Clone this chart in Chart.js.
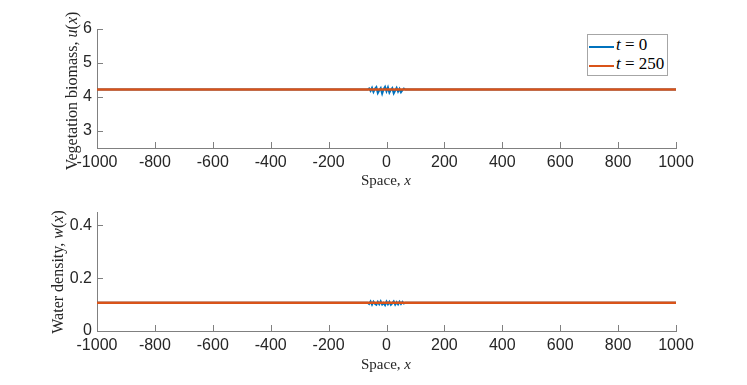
<!DOCTYPE html>
<html>
<head>
<meta charset="utf-8">
<script src="https://cdn.jsdelivr.net/npm/chart.js@4.4.0/dist/chart.umd.min.js"></script>
<style>
  body { margin: 0; background: #fff; }
  #wrap { position: relative; width: 747px; height: 385px; overflow: hidden; }
  canvas { position: absolute; left: 0; }
  .lbl { position: absolute; font-family: "Liberation Serif", "DejaVu Serif", serif; font-size: 15px; color: #262626; white-space: nowrap; }
  .rot { transform: translate(-50%, -50%) rotate(-90deg); font-size: 16px; }
  .hx { transform: translate(-50%, 0); }
  #legend { position: absolute; left: 587px; top: 34px; width: 81px; height: 42px; border: 1px solid #a6a6a6; background: #fff; box-sizing: border-box; }
  #legend .row { position: absolute; left: 0; width: 79px; height: 19px; font-family: "Liberation Serif", serif; font-size: 17px; color: #000; white-space: nowrap; }
  #legend .sw { position: absolute; left: 1px; top: 10px; width: 25px; height: 2px; }
  #legend .tx { position: absolute; left: 28px; top: -1px; }
</style>
</head>
<body>
<div id="wrap">
  <canvas id="topChart" width="747" height="190" style="top:0"></canvas>
  <canvas id="botChart" width="747" height="202" style="top:183px"></canvas>

  <div class="lbl rot" style="left:72px; top:91px">Vegetation biomass, <i>u</i>(<i>x</i>)</div>
  <div class="lbl hx" style="left:386px; top:172px">Space, <i>x</i></div>
  <div class="lbl rot" style="left:58px; top:272px">Water density, <i>w</i>(<i>x</i>)</div>
  <div class="lbl hx" style="left:386px; top:356px">Space, <i>x</i></div>

  <div id="legend">
    <div class="row" style="top:1px"><span class="sw" style="background:#0072BD"></span><span class="tx"><i>t</i> = 0</span></div>
    <div class="row" style="top:20px"><span class="sw" style="background:#D95319"></span><span class="tx"><i>t</i> = 250</span></div>
  </div>
</div>

<script>
// x positions for t = 0 (flat ends, small perturbation near the centre)
const xInit = [-1000, -65, -60, -55, -50, -45, -40, -35, -30, -25, -20, -15, -10, -5, 0,
               5, 10, 15, 20, 25, 30, 35, 40, 45, 50, 55, 60, 65, 1000];
const uInit = [4.22, 4.22, 4.25, 4.18, 4.27, 4.15, 4.24, 4.29, 4.12, 4.20, 4.26, 4.10, 4.23, 4.30,
               4.17, 4.28, 4.13, 4.21, 4.26, 4.11, 4.19, 4.27, 4.16, 4.24, 4.14, 4.20, 4.25, 4.22, 4.22];
const wInit = [0.107, 0.107, 0.102, 0.112, 0.100, 0.111, 0.103, 0.099, 0.110, 0.101, 0.112, 0.100, 0.106, 0.098,
               0.111, 0.101, 0.110, 0.099, 0.105, 0.112, 0.100, 0.109, 0.101, 0.111, 0.102, 0.110, 0.104, 0.107, 0.107];

// t = 250 : homogeneous state
const xFinal = [-1000, 1000];
const uFinal = [4.22, 4.22];
const wFinal = [0.107, 0.107];

const xTicks = [-1000, -800, -600, -400, -200, 0, 200, 400, 600, 800, 1000];
const uTicks = [3, 4, 5, 6];
const wTicks = [0, 0.2, 0.4];

const blue = '#0072BD';
const orange = '#D95319';
const axisGray = '#808080';
const tickFont = { family: '"Liberation Sans", Arial, sans-serif', size: 16 };

function pts(xs, ys) {
    return xs.map((x, i) => ({ x: x, y: ys[i] }));
}

// MATLAB-style inward tick marks
const inwardTicks = {
    id: 'inwardTicks',
    afterDatasetsDraw(chart) {
        const c = chart.ctx, a = chart.chartArea;
        const xs = chart.scales.x, ys = chart.scales.y;
        c.save();
        c.strokeStyle = axisGray;
        c.lineWidth = 1;
        c.beginPath();
        xs.ticks.forEach(t => {
            const px = Math.round(xs.getPixelForValue(t.value)) + 0.5;
            c.moveTo(px, a.bottom);
            c.lineTo(px, a.bottom - 6);
        });
        ys.ticks.forEach(t => {
            const py = Math.round(ys.getPixelForValue(t.value)) + 0.5;
            c.moveTo(a.left, py);
            c.lineTo(a.left + 6, py);
        });
        c.stroke();
        c.restore();
    }
};

function makeChart(id, yInit, yFinal, yMin, yMax, yTicks, axisH) {
    return new Chart(document.getElementById(id), {
        type: 'line',
        data: {
            datasets: [
                { label: 't = 0', data: pts(xInit, yInit), borderColor: blue, borderWidth: 2, pointRadius: 0, order: 1 },
                { label: 't = 250', data: pts(xFinal, yFinal), borderColor: orange, borderWidth: 2.5, pointRadius: 0, order: 0 }
            ]
        },
        options: {
            responsive: false,
            animation: false,
            events: [],
            layout: { autoPadding: false, padding: { left: 0, right: 71, top: 29, bottom: 0 } },
            plugins: { legend: { display: false }, tooltip: { enabled: false } },
            scales: {
                x: {
                    type: 'linear', min: -1000, max: 1000,
                    afterBuildTicks: s => { s.ticks = xTicks.map(v => ({ value: v })); },
                    afterFit: s => { s.height = axisH; },
                    grid: { display: false, drawTicks: false },
                    border: { display: true, color: axisGray, width: 1 },
                    ticks: { color: '#262626', font: tickFont, padding: 5, maxRotation: 0, autoSkip: false,
                             callback: v => String(v) }
                },
                y: {
                    min: yMin, max: yMax,
                    afterBuildTicks: s => { s.ticks = yTicks.map(v => ({ value: v })); },
                    afterFit: s => { s.width = 97; },
                    grid: { display: false, drawTicks: false },
                    border: { display: true, color: axisGray, width: 1 },
                    ticks: { color: '#262626', font: tickFont, padding: 5, callback: v => String(v) }
                }
            }
        },
        plugins: [inwardTicks]
    });
}

makeChart('topChart', uInit, uFinal, 2.5, 6, uTicks, 42);
makeChart('botChart', wInit, wFinal, 0, 0.45, wTicks, 54);
</script>
</body>
</html>
